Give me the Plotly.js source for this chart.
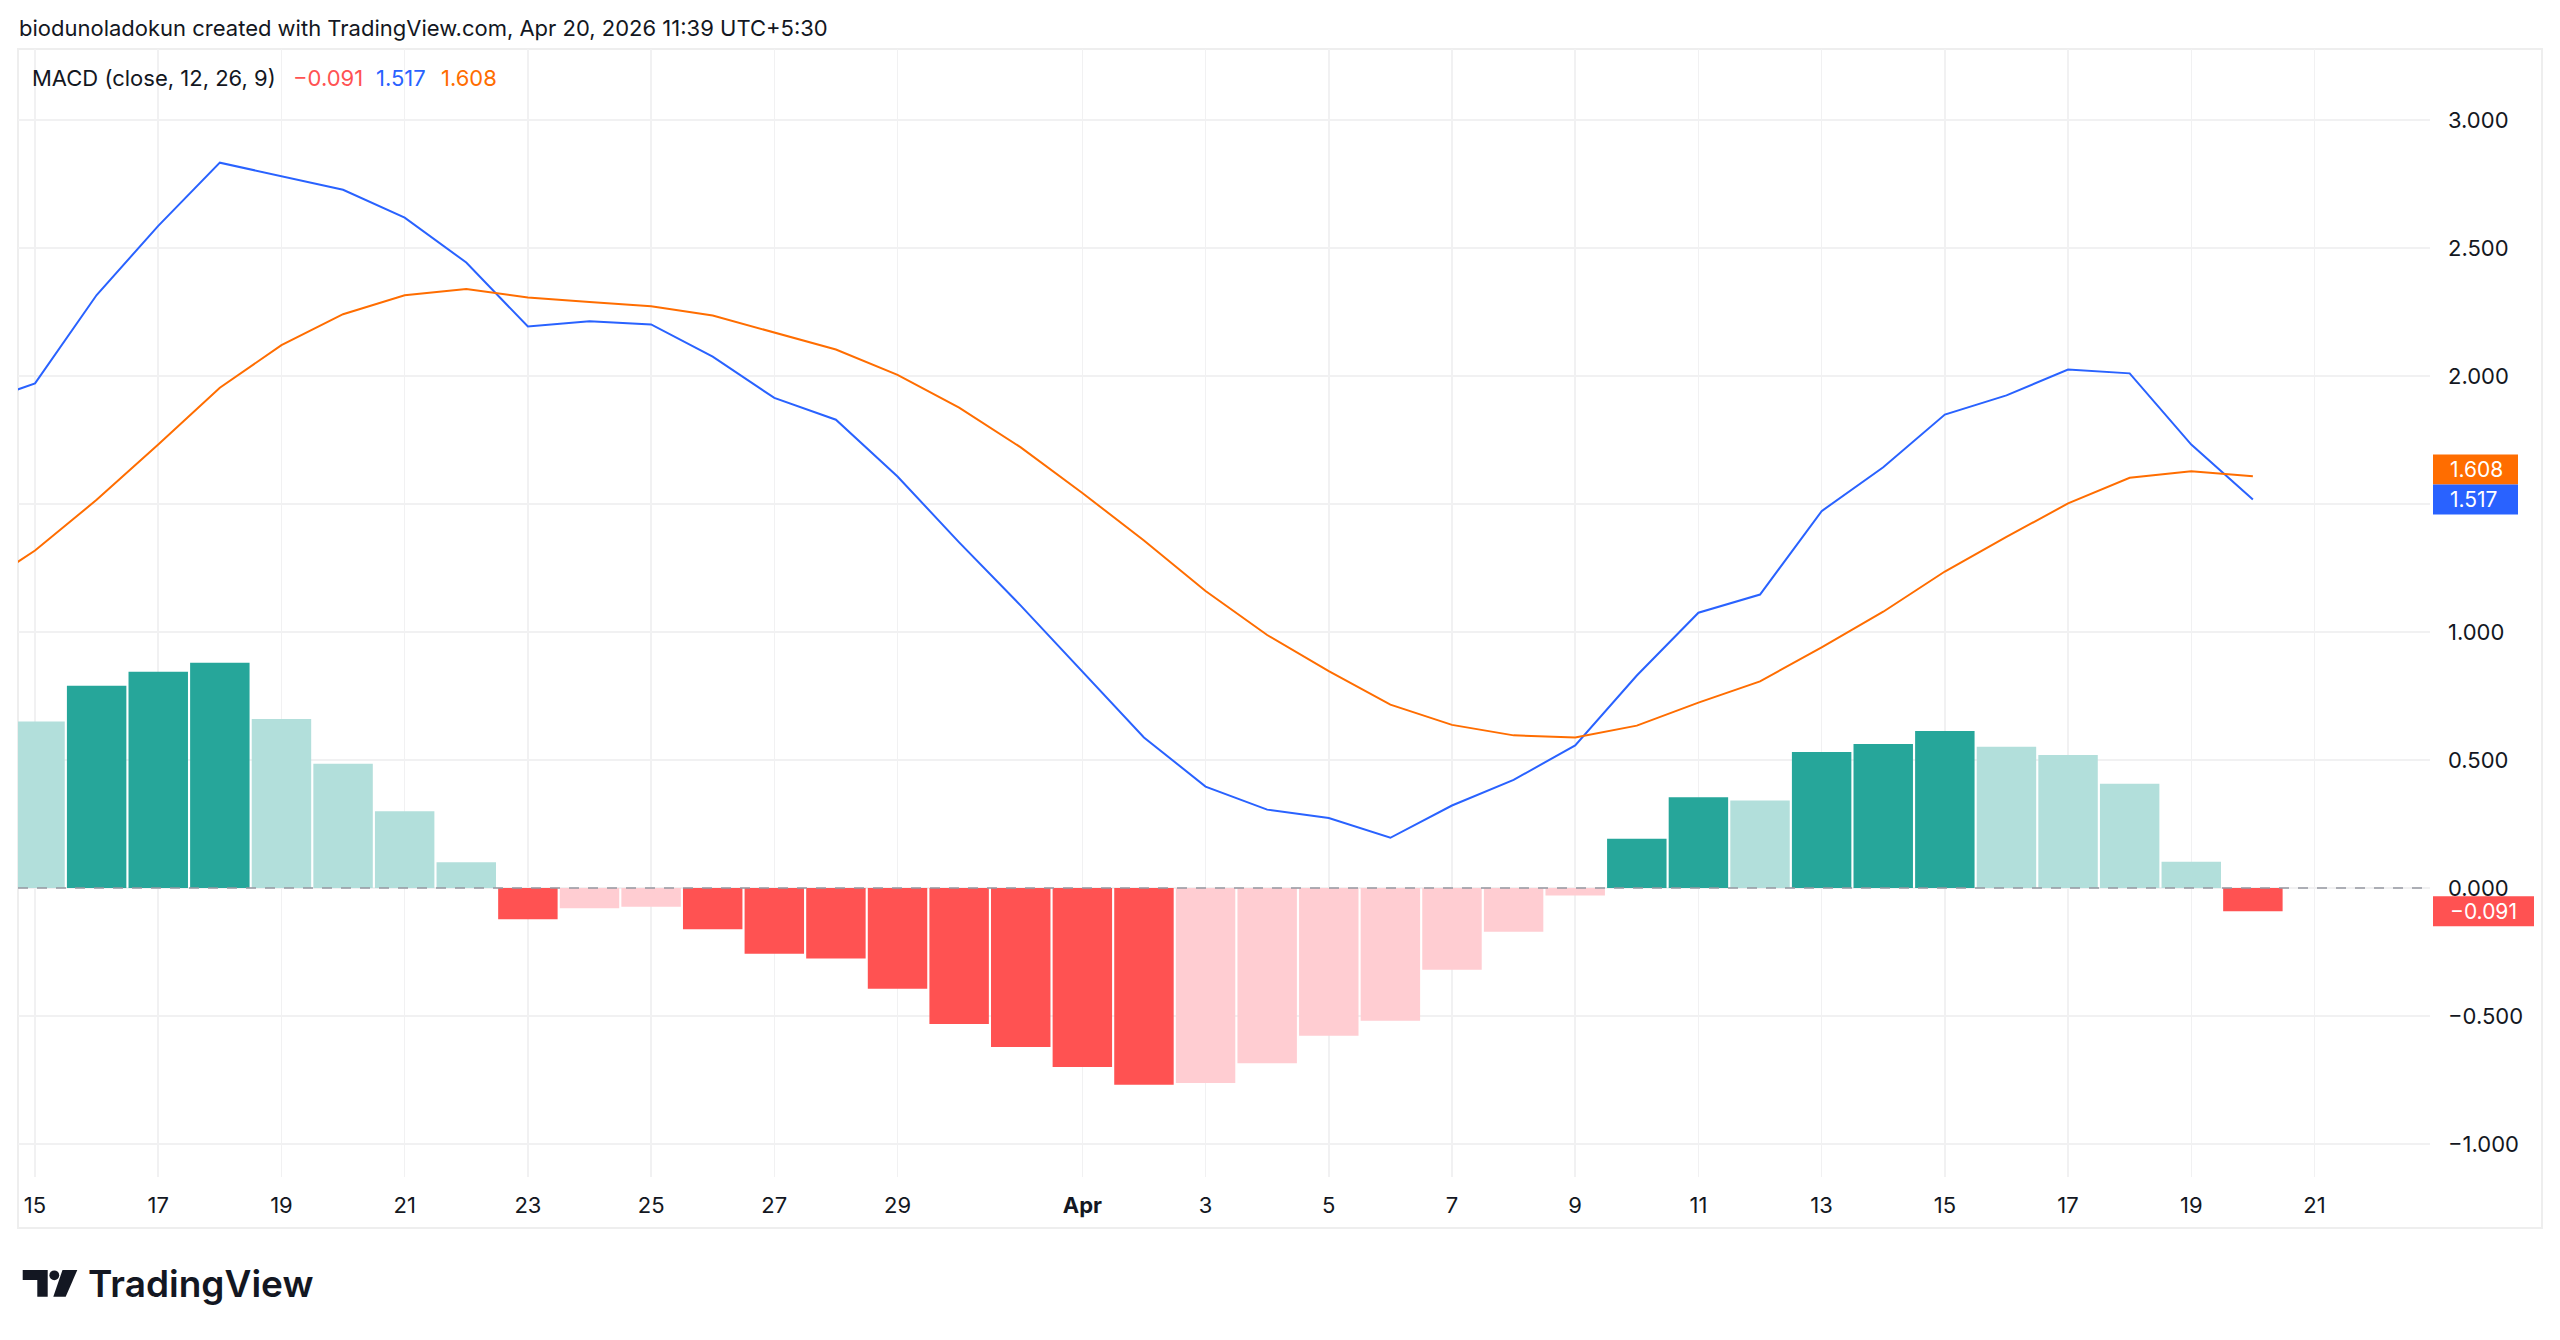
<!DOCTYPE html>
<html>
<head>
<meta charset="utf-8">
<script src="https://cdn.plot.ly/plotly-3.0.1.min.js"></script>
<style>
html,body{margin:0;padding:0;background:#ffffff;}
#chart{width:2560px;height:1340px;}
</style>
</head>
<body>
<div id="chart"></div>
<script>
// ---------- DATA ----------
var dates = ['2026-03-14','2026-03-15','2026-03-16','2026-03-17','2026-03-18','2026-03-19','2026-03-20','2026-03-21','2026-03-22','2026-03-23','2026-03-24','2026-03-25','2026-03-26','2026-03-27','2026-03-28','2026-03-29','2026-03-30','2026-03-31',
             '2026-04-01','2026-04-02','2026-04-03','2026-04-04','2026-04-05','2026-04-06','2026-04-07','2026-04-08','2026-04-09','2026-04-10','2026-04-11','2026-04-12','2026-04-13','2026-04-14','2026-04-15','2026-04-16','2026-04-17','2026-04-18','2026-04-19','2026-04-20'];
var macdLine = [1.885,1.971,2.316,2.586,2.833,2.781,2.727,2.618,2.443,2.193,2.214,2.201,2.075,1.914,1.829,1.607,1.350,1.103,
                0.846,0.588,0.396,0.306,0.273,0.196,0.322,0.422,0.557,0.830,1.075,1.146,1.472,1.643,1.849,1.924,2.025,2.010,1.732,1.517];
var signalLine = [1.160,1.318,1.516,1.732,1.954,2.120,2.241,2.315,2.340,2.306,2.289,2.272,2.236,2.171,2.103,2.004,1.876,1.721,
                  1.543,1.357,1.160,0.988,0.847,0.716,0.637,0.596,0.588,0.634,0.724,0.807,0.940,1.079,1.236,1.371,1.502,1.602,1.628,1.608];
var histogram = [0.725,0.650,0.790,0.845,0.880,0.660,0.485,0.300,0.100,-0.122,-0.079,-0.073,-0.161,-0.257,-0.276,-0.394,-0.531,-0.621,
                 -0.699,-0.769,-0.762,-0.685,-0.577,-0.519,-0.319,-0.171,-0.029,0.192,0.354,0.342,0.531,0.562,0.613,0.552,0.519,0.407,0.102,-0.091];
var xTickVals = ['2026-03-15','2026-03-17','2026-03-19','2026-03-21','2026-03-23','2026-03-25','2026-03-27','2026-03-29','2026-04-01','2026-04-03','2026-04-05','2026-04-07','2026-04-09','2026-04-11','2026-04-13','2026-04-15','2026-04-17','2026-04-19','2026-04-21'];
var xTickText = ['15','17','19','21','23','25','27','29','<b>Apr</b>','3','5','7','9','11','13','15','17','19','21'];
var yTickVals = [-1,-0.5,0,0.5,1,1.5,2,2.5,3];
var yHiddenTicks = [1.5];
var titleText = 'biodunoladokun created with TradingView.com, Apr 20, 2026 11:39 UTC+5:30';
var legendName = 'MACD (close, 12, 26, 9)';

// ---------- STYLE ----------
var C_UP_RISE = '#26a69a', C_UP_FALL = '#b2dfdb', C_DN_FALL = '#ff5252', C_DN_RISE = '#ffcdd2';
var C_MACD = '#2962ff', C_SIG = '#ff6d00';
var FONT = 'Inter, "Noto Sans", sans-serif';
var TXT = '#131722';
var GRID = '#f1f1f2';

var W = 2560, H = 1340;
var L = 18, R = 2430, T = 49, B = 1177;
var yMin = -1.129, yMax = 3.277;
var pxPerUnit = (B - T) / (yMax - yMin);
function px(x){ return (x - L) / (R - L); }
function py(y){ return (B - y) / (B - T); }

var barColors = histogram.map(function(h,i){
  var prev = i > 0 ? histogram[i-1] : h;
  if (h >= 0) return h > prev ? C_UP_RISE : C_UP_FALL;
  return h < prev ? C_DN_FALL : C_DN_RISE;
});

function fmt(v){ var s = Math.abs(v).toFixed(3); return (v < 0 ? '\u2212' : '') + s; }
var yTickText = yTickVals.map(function(v){ return yHiddenTicks.indexOf(v) >= 0 ? '' : fmt(v); });

var traces = [
  {type:'bar', x:dates, y:histogram, marker:{color:barColors, line:{width:0}}, hoverinfo:'skip'},
  {type:'scatter', mode:'lines', x:dates, y:macdLine, line:{color:C_MACD, width:2}, hoverinfo:'skip'},
  {type:'scatter', mode:'lines', x:dates, y:signalLine, line:{color:C_SIG, width:2}, hoverinfo:'skip'}
];

// price tags
var n = dates.length;
var lastM = macdLine[n-1], lastS = signalLine[n-1], lastH = histogram[n-1];
var tagH = 30 / pxPerUnit;
var mC = lastM, sC = lastS;
if (Math.abs(sC - mC) < tagH) { if (sC >= mC) sC = mC + tagH; else mC = sC + tagH; }
var tags = [
  {c:sC, v:lastS, color:C_SIG, x1:2518},
  {c:mC, v:lastM, color:C_MACD, x1:2518},
  {c:lastH, v:lastH, color:C_DN_FALL, x1:2534}
];

var shapes = [
  // panel border
  {type:'rect', xref:'paper', yref:'paper', x0:px(18), x1:px(2542), y0:py(1228), y1:py(49), line:{color:'#eeeeee', width:2}, layer:'below'},
  // zero dashed line
  {type:'line', xref:'paper', yref:'y', x0:0, x1:1, y0:0, y1:0, line:{color:'#9598a1', width:1.5, dash:'10px,9px'}}
];
var annotations = [
  {xref:'paper', yref:'paper', x:px(17), y:py(28), xanchor:'left', yanchor:'middle', text:titleText, showarrow:false, font:{family:FONT, size:22, color:TXT}},
  {xref:'paper', yref:'paper', x:px(30), y:py(78), xanchor:'left', yanchor:'middle', text:legendName, showarrow:false, font:{family:FONT, size:22, color:TXT}},
  {xref:'paper', yref:'paper', x:px(291), y:py(78), xanchor:'left', yanchor:'middle', text:fmt(lastH), showarrow:false, font:{family:FONT, size:22, color:C_DN_FALL}},
  {xref:'paper', yref:'paper', x:px(374), y:py(78), xanchor:'left', yanchor:'middle', text:lastM.toFixed(3), showarrow:false, font:{family:FONT, size:22, color:C_MACD}},
  {xref:'paper', yref:'paper', x:px(439), y:py(78), xanchor:'left', yanchor:'middle', text:lastS.toFixed(3), showarrow:false, font:{family:FONT, size:22, color:C_SIG}}
];
tags.forEach(function(t){
  shapes.push({type:'rect', xref:'paper', yref:'y', x0:px(2433), x1:px(t.x1), y0:t.c - tagH/2, y1:t.c + tagH/2, fillcolor:t.color, line:{width:0}});
  annotations.push({xref:'paper', yref:'y', x:px(2448), y:t.c, xanchor:'left', yanchor:'middle', text:fmt(t.v), showarrow:false, font:{family:FONT, size:21, color:'#ffffff'}});
});

// TradingView logo
function P(x,y){ return px(x).toFixed(5) + ',' + py(y).toFixed(5); }
shapes.push({type:'path', xref:'paper', yref:'paper', fillcolor:'#131722', line:{width:0},
  path:'M'+P(22.7,1270)+' L'+P(47.7,1270)+' L'+P(47.7,1296.7)+' L'+P(37.3,1296.7)+' L'+P(37.3,1280)+' L'+P(22.7,1280)+' Z'});
shapes.push({type:'circle', xref:'paper', yref:'paper', fillcolor:'#131722', line:{width:0},
  x0:px(49.4), x1:px(59.2), y0:py(1280.2), y1:py(1270.4)});
shapes.push({type:'path', xref:'paper', yref:'paper', fillcolor:'#131722', line:{width:0},
  path:'M'+P(62.5,1270)+' L'+P(77.3,1270)+' L'+P(65.7,1296.7)+' L'+P(53.3,1296.7)+' Z'});
annotations.push({xref:'paper', yref:'paper', x:px(86), y:py(1283), xanchor:'left', yanchor:'middle', text:'TradingView', showarrow:false,
  font:{family:FONT, size:37, color:'#131722', weight:600}});

var layout = {
  width:W, height:H,
  margin:{l:L, r:W-R, t:T, b:H-B, pad:0},
  paper_bgcolor:'#ffffff', plot_bgcolor:'#ffffff',
  showlegend:false, bargap:0.035, hovermode:false,
  xaxis:{type:'date', range:['2026-03-14 17:22','2026-04-22 21:00'], tickvals:xTickVals, ticktext:xTickText,
    showgrid:true, gridcolor:GRID, gridwidth:1.5, zeroline:false, showline:false, ticks:'',
    tickfont:{family:FONT, size:22, color:TXT}, ticklabelstandoff:13, fixedrange:true},
  yaxis:{side:'right', range:[yMin,yMax], tickvals:yTickVals, ticktext:yTickText,
    showgrid:true, gridcolor:GRID, gridwidth:1.5, zeroline:false, showline:false, ticks:'',
    tickfont:{family:FONT, size:22, color:TXT}, ticklabelstandoff:17, fixedrange:true},
  shapes:shapes, annotations:annotations
};
Plotly.newPlot('chart', traces, layout, {staticPlot:true, displayModeBar:false});
</script>
</body>
</html>
